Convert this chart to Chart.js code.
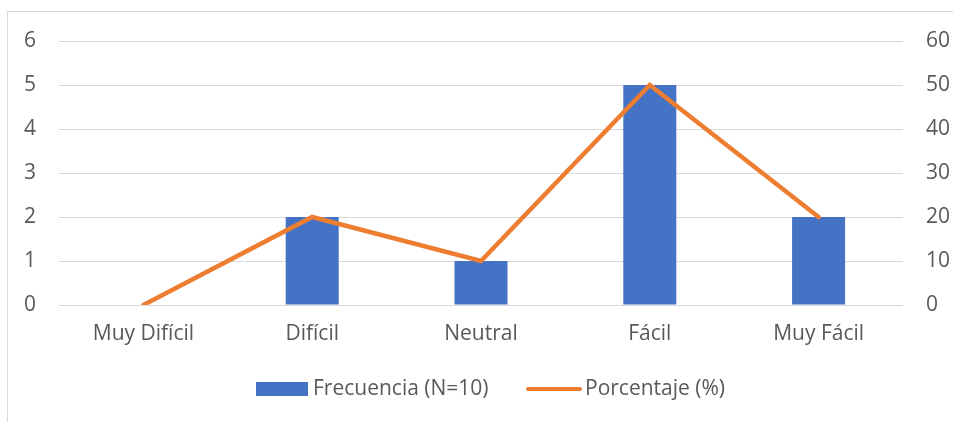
<!DOCTYPE html>
<html>
<head>
<meta charset="utf-8">
<script src="https://cdn.jsdelivr.net/npm/chart.js@4/dist/chart.umd.min.js"></script>
<style>
  html, body { margin: 0; padding: 0; background: #fff; }
  #wrap { position: relative; width: 953px; height: 422px; overflow: hidden; }
  #frame { position: absolute; left: 7px; top: 11px; width: 1200px; height: 800px;
           border-left: 1px solid #D9D9D9; border-top: 1px solid #D9D9D9; }
  canvas { position: absolute; left: 0; top: 0; }
</style>
</head>
<body>
<div id="wrap">
  <div id="frame"></div>
  <canvas id="c" width="953" height="422"></canvas>
</div>
<script>
const categories = ['Muy Difícil', 'Difícil', 'Neutral', 'Fácil', 'Muy Fácil'];
const frecuencia = [0, 2, 1, 5, 2];
const porcentaje = [0, 20, 10, 50, 20];
const leftTicks = [0, 1, 2, 3, 4, 5, 6];
const rightTicks = [0, 10, 20, 30, 40, 50, 60];

const FONT = '"Open Sans", "Noto Sans", sans-serif';
const FSIZE = 21;
const TEXT = '#595959';
const BLUE = '#4472C4';
const ORANGE = '#ED7D31';
const GRID = '#D9D9D9';

// Legend drawn beneath the plot: a filled box for the bars, a thick line for the percentage
const bottomLegend = {
  id: 'bottomLegend',
  afterDraw(chart) {
    const ctx = chart.ctx;
    ctx.save();
    ctx.font = FSIZE + 'px ' + FONT;
    ctx.textBaseline = 'middle';
    const y = 389;
    ctx.fillStyle = BLUE;
    ctx.fillRect(256, 382, 52, 14);
    ctx.fillStyle = TEXT;
    ctx.fillText(chart.data.datasets[0].label, 313, y);
    ctx.strokeStyle = ORANGE;
    ctx.lineWidth = 4;
    ctx.lineCap = 'round';
    ctx.beginPath();
    ctx.moveTo(528, y);
    ctx.lineTo(580, y);
    ctx.stroke();
    ctx.fillText(chart.data.datasets[1].label, 585, y);
    ctx.restore();
  }
};

new Chart(document.getElementById('c'), {
  data: {
    labels: categories,
    datasets: [
      {
        type: 'bar',
        label: 'Frecuencia (N=10)',
        data: frecuencia,
        backgroundColor: BLUE,
        yAxisID: 'y',
        barPercentage: 0.314,
        categoryPercentage: 1,
        order: 1
      },
      {
        type: 'line',
        label: 'Porcentaje (%)',
        data: porcentaje,
        borderColor: ORANGE,
        backgroundColor: ORANGE,
        borderWidth: 4.5,
        borderCapStyle: 'round',
        borderJoinStyle: 'miter',
        pointRadius: 0,
        tension: 0,
        yAxisID: 'y1',
        order: 0
      }
    ]
  },
  options: {
    responsive: false,
    animation: false,
    layout: { padding: { top: 41, bottom: 0, left: 0, right: 0 } },
    plugins: {
      legend: { display: false },
      tooltip: { enabled: false }
    },
    scales: {
      x: {
        grid: { display: false, drawTicks: false },
        border: { display: false },
        ticks: { color: TEXT, font: { family: FONT, size: FSIZE }, padding: 16, maxRotation: 0 },
        afterFit(s) { s.height = 117; }
      },
      y: {
        position: 'left',
        min: 0, max: 6,
        afterBuildTicks(s) { s.ticks = leftTicks.map(v => ({ value: v })); },
        grid: { color: GRID, lineWidth: 1, drawTicks: false },
        border: { display: false },
        ticks: { color: TEXT, font: { family: FONT, size: FSIZE }, padding: 23 },
        afterFit(s) { s.width = 59; }
      },
      y1: {
        position: 'right',
        min: 0, max: 60,
        afterBuildTicks(s) { s.ticks = rightTicks.map(v => ({ value: v })); },
        grid: { display: false, drawTicks: false },
        border: { display: false },
        ticks: { color: TEXT, font: { family: FONT, size: FSIZE }, padding: 23 },
        afterFit(s) { s.width = 50; }
      }
    }
  },
  plugins: [bottomLegend]
});
</script>
</body>
</html>
